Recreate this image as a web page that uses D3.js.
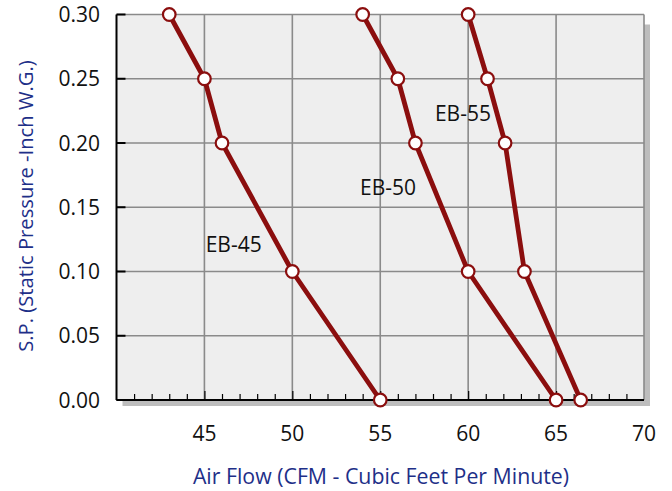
<!DOCTYPE html>
<html><head><meta charset="utf-8">
<script src="https://cdn.jsdelivr.net/npm/d3@7"></script>
<style>body{margin:0;background:#fff;} svg{display:block;font-family:"Open Sans","Noto Sans",sans-serif;}</style>
</head><body>
<svg id="c" width="672" height="491"></svg>
<script>
const xTicks = [45, 50, 55, 60, 65, 70];
const yTicks = [0.00, 0.05, 0.10, 0.15, 0.20, 0.25, 0.30];
const seriesNames = ["EB-45", "EB-50", "EB-55"];
const pressure = [0.30, 0.25, 0.20, 0.10, 0.00];
const eb45 = [43, 45, 46, 50, 55];
const eb50 = [54, 56, 57, 60, 65];
const eb55 = [60, 61.1, 62.1, 63.2, 66.4];
const labelPos = [[45.07, 0.1152], [53.85, 0.1595], [58.11, 0.2174]];
const xTitle = "Air Flow (CFM - Cubic Feet Per Minute)";
const yTitle = "S.P. (Static Pressure -Inch W.G.)";

const svg = d3.select("#c");
const L = 116.5, R = 644, T = 14.5, B = 400;
const x = d3.scaleLinear().domain([40, 70]).range([L, R]);
const y = d3.scaleLinear().domain([0, 0.30]).range([B, T]);
const red = "#8b0e0e", grid = "#8a8a8a";

// shadow
svg.append("rect").attr("x", L + 6).attr("y", T + 10).attr("width", R - L).attr("height", B - T - 4)
  .attr("fill", "#bdbdbd");
svg.append("rect").attr("x", L).attr("y", T).attr("width", R - L).attr("height", B - T).attr("fill", "#eeeeee");

// grid
const g = svg.append("g");
g.selectAll("line.v").data(xTicks).enter().append("line")
  .attr("x1", d => x(d)).attr("x2", d => x(d)).attr("y1", T).attr("y2", B)
  .attr("stroke", grid).attr("stroke-width", 1.6);
g.selectAll("line.h").data(yTicks.filter(d => d > 0)).enter().append("line")
  .attr("x1", L).attr("x2", R).attr("y1", d => y(d)).attr("y2", d => y(d))
  .attr("stroke", grid).attr("stroke-width", 1.6);

// axes
const xa = svg.append("g").attr("transform", `translate(0,${B})`)
  .call(d3.axisTop(x).tickValues(d3.range(41, 70, 1)).tickSize(6).tickFormat(""));
xa.select(".domain").remove();
xa.selectAll("line").attr("stroke", "#000").attr("stroke-width", 1.2)
  .attr("y2", d => d % 5 === 0 ? -9 : -6);
svg.append("line").attr("x1", L).attr("x2", R).attr("y1", B).attr("y2", B).attr("stroke", "#000").attr("stroke-width", 2);
svg.append("line").attr("x1", L).attr("x2", L).attr("y1", T).attr("y2", B).attr("stroke", "#000").attr("stroke-width", 2);
svg.selectAll("line.yt").data(yTicks).enter().append("line")
  .attr("x1", L).attr("x2", L + 9).attr("y1", d => y(d)).attr("y2", d => y(d))
  .attr("stroke", "#000").attr("stroke-width", 2);

// tick labels
svg.selectAll("text.xl").data(xTicks).enter().append("text")
  .attr("x", d => x(d)).attr("y", 441).attr("text-anchor", "middle")
  .attr("font-size", 21).attr("fill", "#111").text(d => d);
svg.selectAll("text.yl").data(yTicks).enter().append("text")
  .attr("x", 100).attr("y", d => y(d) + 7.5).attr("text-anchor", "end")
  .attr("font-size", 21).attr("fill", "#111").text(d => d.toFixed(2));

// titles
svg.append("text").attr("x", 381).attr("y", 484).attr("text-anchor", "middle")
  .attr("font-size", 21.3).attr("fill", "#1e2f88").text(xTitle);
svg.append("text").attr("transform", "translate(33,206) rotate(-90)").attr("text-anchor", "middle")
  .attr("font-size", 20.2).attr("fill", "#1e2f88").text(yTitle);

// series
const series = [eb45, eb50, eb55];
const line = d3.line().x(d => x(d[0])).y(d => y(d[1]));
series.forEach((s, i) => {
  const pts = s.map((v, j) => [v, pressure[j]]);
  svg.append("path").attr("d", line(pts)).attr("fill", "none")
    .attr("stroke", red).attr("stroke-width", 4.8).attr("stroke-linejoin", "round");
  svg.selectAll(null).data(pts).enter().append("circle")
    .attr("cx", d => x(d[0])).attr("cy", d => y(d[1])).attr("r", 6.3)
    .attr("fill", "#fff").attr("stroke", red).attr("stroke-width", 2.2);
  svg.append("text").attr("x", x(labelPos[i][0])).attr("y", y(labelPos[i][1]))
    .attr("font-size", 21).attr("fill", "#111").text(seriesNames[i]);
});
</script>
</body></html>
